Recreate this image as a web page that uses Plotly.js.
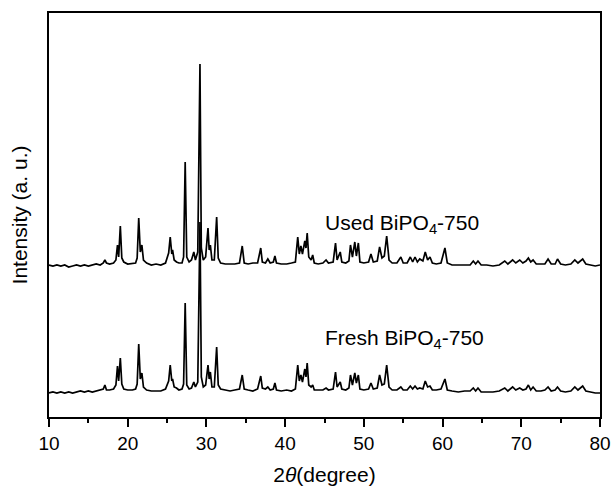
<!DOCTYPE html>
<html>
<head>
<meta charset="utf-8">
<script src="https://cdn.plot.ly/plotly-3.0.1.min.js"></script>
<style>html,body{margin:0;padding:0;background:#fff;}#chart{width:612px;height:487px;}</style>
</head>
<body>
<div id="chart"></div>
<script>
// 2-theta positions (degree)
const twoTheta = [10.0,10.5,11.0,11.5,12.0,12.5,13.0,13.5,14.0,14.5,15.0,15.5,16.0,16.5,16.9,17.1,17.3,17.7,18.2,18.5,18.7,18.85,19.06,19.25,19.5,20.0,20.6,21.0,21.2,21.4,21.6,21.8,22.0,22.4,23.0,23.6,24.2,24.8,25.2,25.4,25.6,25.7,25.9,26.2,26.5,26.9,27.1,27.3,27.5,27.8,28.1,28.4,28.6,28.9,29.18,29.35,29.6,29.9,30.2,30.35,30.5,30.7,31.0,31.3,31.5,31.8,32.4,33.0,33.6,34.2,34.55,34.8,35.3,35.9,36.5,36.9,37.1,37.5,37.8,38.1,38.5,38.7,38.9,39.5,40.2,40.8,41.3,41.6,41.8,42.0,42.2,42.5,42.65,42.8,43.0,43.3,43.5,43.7,44.2,44.8,45.2,45.5,46.1,46.4,46.6,47.0,47.2,47.7,48.1,48.3,48.55,48.85,49.05,49.3,49.5,50.0,50.6,50.9,51.2,51.7,52.0,52.3,52.6,52.9,53.2,53.6,54.2,54.7,55.0,55.5,55.9,56.2,56.5,56.8,57.1,57.5,57.8,58.1,58.4,58.7,59.2,59.8,60.3,60.6,61.2,62.0,62.8,63.5,63.9,64.2,64.5,64.9,65.6,66.4,67.2,67.9,68.3,68.9,69.3,69.8,70.2,70.6,70.9,71.2,71.5,71.9,72.5,73.0,73.4,73.8,74.3,74.6,75.0,75.6,76.3,76.8,77.2,77.8,78.2,78.8,79.4,80.0];
// Fresh BiPO4-750 intensity (a.u.)
const freshIntensity = [24,25,24,25,24,25,24,25,26,25,26,25,26,27,28,32,27,27,28,32,51,36,59,33,28,27,27,28,33,73,38,44,30,27,26,26,26,28,36,52,36,38,30,29,27,28,33,114,32,28,29,35,30,35,195,40,30,32,52,38,45,30,30,70,32,28,27,26,27,28,42,28,27,26,28,41,29,28,30,27,28,34,27,26,27,26,28,52,36,42,35,48,40,54,32,30,32,27,27,27,29,27,28,45,30,35,28,27,29,42,32,44,34,42,28,27,28,34,28,29,42,32,33,52,30,27,27,30,27,27,31,28,31,28,29,28,36,30,31,27,27,28,38,27,26,25,26,26,29,26,29,25,25,25,26,29,26,30,27,29,27,28,32,27,30,26,26,27,30,26,27,30,26,25,26,30,27,31,26,25,24,24];
// Used BiPO4-750 intensity (a.u.), drawn with a vertical stacking offset
const usedIntensity = [25,24,25,24,25,23,24,25,24,25,24,25,26,25,27,30,27,26,27,30,45,33,64,32,28,26,27,27,32,72,38,45,30,27,25,26,25,27,37,53,36,40,30,28,27,27,33,128,33,28,30,38,30,38,226,42,30,33,62,40,45,30,30,73,32,27,26,26,26,27,44,27,26,27,27,42,28,27,31,27,28,34,27,26,26,27,28,53,36,44,36,49,42,57,33,30,35,27,26,27,30,27,28,47,30,38,28,27,29,45,33,48,34,47,28,27,28,36,28,29,43,32,34,54,30,27,27,33,27,27,33,28,33,28,31,29,38,30,33,27,26,27,42,27,25,25,25,25,29,26,29,25,25,24,25,29,26,30,27,30,27,29,32,28,30,26,26,26,31,26,26,31,26,25,26,30,27,31,26,25,24,25];
const usedOffset = 127;
const xTicks = [10,20,30,40,50,60,70,80];
const labels = ["Used BiPO<sub>4</sub>-750", "Fresh BiPO<sub>4</sub>-750"];

const usedShifted = usedIntensity.map(v => v + usedOffset);
const FONT = "Liberation Sans, Arial, Helvetica, sans-serif";

const traces = [
  {x: twoTheta, y: freshIntensity, type: 'scatter', mode: 'lines', line: {color: '#000', width: 1.7}, name: 'Fresh', hoverinfo: 'none'},
  {x: twoTheta, y: usedShifted, type: 'scatter', mode: 'lines', line: {color: '#000', width: 1.7}, name: 'Used', hoverinfo: 'none'}
];

const layout = {
  width: 612, height: 487,
  margin: {l: 49, r: 12, t: 13, b: 70, pad: 0},
  paper_bgcolor: '#fff', plot_bgcolor: '#fff',
  showlegend: false,
  font: {family: FONT, color: '#000', size: 19},
  xaxis: {
    range: [10, 80], tickvals: xTicks, ticktext: xTicks.map(String),
    ticks: 'outside', ticklen: 8, tickwidth: 2, tickcolor: '#000',
    minor: {dtick: 5, tick0: 10, ticks: 'outside', ticklen: 4, tickwidth: 2, tickcolor: '#000'},
    showline: true, linewidth: 2, linecolor: '#000', mirror: true,
    showgrid: false, zeroline: false,
    tickfont: {family: FONT, size: 19, color: '#000'},
    title: {text: '2<i>θ</i>(degree)', font: {family: FONT, size: 21, color: '#000'}, standoff: 15}
  },
  yaxis: {
    range: [0, 404], showticklabels: false, ticks: '',
    showline: true, linewidth: 2, linecolor: '#000', mirror: true,
    showgrid: false, zeroline: false,
    title: {text: 'Intensity (a. u.)', font: {family: FONT, size: 21, color: '#000'}, standoff: 14}
  },
  annotations: [
    {x: 44.8, y: 193, xref: 'x', yref: 'y', text: labels[0], showarrow: false, xanchor: 'left', yanchor: 'middle', font: {family: FONT, size: 21, color: '#000'}},
    {x: 44.8, y: 78, xref: 'x', yref: 'y', text: labels[1], showarrow: false, xanchor: 'left', yanchor: 'middle', font: {family: FONT, size: 21, color: '#000'}}
  ]
};

Plotly.newPlot('chart', traces, layout, {staticPlot: true, displayModeBar: false});
</script>
</body>
</html>
